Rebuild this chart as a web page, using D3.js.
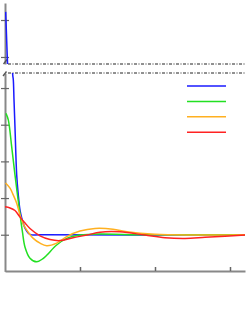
<!DOCTYPE html>
<html>
<head>
<meta charset="utf-8">
<script src="https://cdn.jsdelivr.net/npm/d3@7"></script>
<style>
  body { margin: 0; background: #fff; }
  svg { display: block; }
</style>
</head>
<body>
<svg id="chart"></svg>
<script>
// Data (x, value)
const seriesNames = ['blue', 'green', 'orange', 'red'];
const seriesColors = ['#1a1aff', '#22e022', '#ffb020', '#ff2222'];

const blueData = [[0.009, 10.22], [0.031, 8.97], [0.103, 5.36], [0.111, 5.22], [0.12, 4.68], [0.133, 3.94],
  [0.156, 2.63], [0.177, 2.09], [0.2, 1.67], [0.223, 1.46], [0.267, 1.18], [0.333, 1.01], [0.467, 1.0], [3.2, 1.0]];
const greenData = [[0.013, 4.31], [0.044, 4.13], [0.089, 3.40], [0.133, 2.63], [0.2, 1.56], [0.233, 1.07],
  [0.267, 0.66], [0.333, 0.36], [0.423, 0.26], [0.507, 0.35], [0.556, 0.44], [0.689, 0.72], [0.823, 0.90],
  [1.0, 0.99], [1.267, 1.02], [1.667, 1.0], [3.2, 1.0]];
const orangeData = [[0.007, 2.41], [0.067, 2.27], [0.111, 2.08], [0.156, 1.86], [0.2, 1.54], [0.244, 1.29],
  [0.289, 1.13], [0.377, 0.90], [0.467, 0.77], [0.556, 0.70], [0.689, 0.77], [0.823, 0.95], [1.0, 1.10],
  [1.2, 1.17], [1.44, 1.15], [1.627, 1.08], [2.0, 1.01], [2.467, 0.99], [3.2, 1.0]];
const redData = [[0.0, 1.76], [0.067, 1.73], [0.133, 1.66], [0.2, 1.48], [0.267, 1.32], [0.333, 1.17],
  [0.467, 0.97], [0.6, 0.87], [0.733, 0.84], [0.907, 0.92], [1.093, 0.99], [1.267, 1.07], [1.533, 1.08],
  [1.867, 0.99], [2.133, 0.92], [2.4, 0.90], [2.667, 0.93], [2.933, 0.96], [3.2, 0.99]];
const allSeries = [blueData, greenData, orangeData, redData];

const xTicks = [1, 2, 3];
const yTicksLow = [1, 2, 3, 4, 5];
const yTicksUp = [9, 10];

let width = 250, height = 320;
let svg = d3.select('#chart')
    .attr('width', width)
    .attr('height', height);

// scales: x shared, y broken into two panels
let xScale = d3.scaleLinear().domain([0, 3.2]).range([5, 245]);
let yLow = d3.scaleLinear().domain([0, 5.41]).range([271.4, 73]);
let yUp = d3.scaleLinear().domain([8.81, 10.46]).range([64, 3]);

// clip paths for each panel
let defs = svg.append('defs');
defs.append('clipPath').attr('id', 'clipUp')
    .append('rect').attr('x', 5).attr('y', 3).attr('width', 240).attr('height', 61);
defs.append('clipPath').attr('id', 'clipLow')
    .append('rect').attr('x', 5).attr('y', 73).attr('width', 240).attr('height', 199);

// axes
let axisColor = '#888';
let yAxisLow = svg.append('g')
    .attr('transform', 'translate(5,0)')
    .call(d3.axisLeft(yLow).tickValues(yTicksLow).tickFormat('').tickSizeInner(4).tickSizeOuter(0));
let yAxisUp = svg.append('g')
    .attr('transform', 'translate(5,0)')
    .call(d3.axisLeft(yUp).tickValues(yTicksUp).tickFormat('').tickSizeInner(4).tickSizeOuter(0));
let xAxis = svg.append('g')
    .attr('transform', 'translate(0,271)')
    .call(d3.axisTop(xScale).tickValues(xTicks).tickFormat('').tickSizeInner(4).tickSizeOuter(0));

[yAxisLow, yAxisUp, xAxis].forEach(function (ax) {
    ax.select('.domain').attr('stroke', axisColor).attr('stroke-width', 2);
    ax.selectAll('.tick line').attr('stroke', '#666').attr('stroke-width', 1.2);
});
// y ticks cross the axis
yAxisLow.selectAll('.tick line').attr('x1', 4);
yAxisUp.selectAll('.tick line').attr('x1', 4);
xAxis.selectAll('.tick line').attr('stroke-width', 1.5);

// break marks
svg.append('line').attr('x1', 3.5).attr('y1', 64).attr('x2', 7).attr('y2', 59.5)
    .attr('stroke', '#555').attr('stroke-width', 1.3);
svg.append('line').attr('x1', 3).attr('y1', 76).attr('x2', 6.5).attr('y2', 71.5)
    .attr('stroke', '#555').attr('stroke-width', 1.3);

// dash-dot panel boundaries
[yUp(8.81), yLow(5.41)].forEach(function (y) {
    svg.append('line')
        .attr('x1', 8).attr('x2', 245)
        .attr('y1', y).attr('y2', y)
        .attr('stroke', '#222')
        .attr('stroke-width', 1)
        .attr('stroke-dasharray', '3,1.5,1,1.5');
});

// lines in both panels
let lineLow = d3.line().x(d => xScale(d[0])).y(d => yLow(d[1])).curve(d3.curveCatmullRom);
let lineUp = d3.line().x(d => xScale(d[0])).y(d => yUp(d[1])).curve(d3.curveLinear);

allSeries.forEach(function (data, i) {
    svg.append('path')
        .attr('clip-path', 'url(#clipLow)')
        .attr('d', lineLow(data))
        .attr('fill', 'none')
        .attr('stroke', seriesColors[i])
        .attr('stroke-width', 1.5);
    svg.append('path')
        .attr('clip-path', 'url(#clipUp)')
        .attr('d', lineUp(data))
        .attr('fill', 'none')
        .attr('stroke', seriesColors[i])
        .attr('stroke-width', 1.5);
});

// legend (lines only)
const legend = svg.selectAll('.legend')
    .data(seriesNames)
    .enter().append('g')
    .attr('class', 'legend')
    .attr('transform', (d, i) => 'translate(187,' + (86 + i * 15.4) + ')');

legend.append('line')
    .attr('x1', 0).attr('x2', 39)
    .attr('y1', 0).attr('y2', 0)
    .attr('stroke', (d, i) => seriesColors[i])
    .attr('stroke-width', 1.5);
</script>
</body>
</html>
